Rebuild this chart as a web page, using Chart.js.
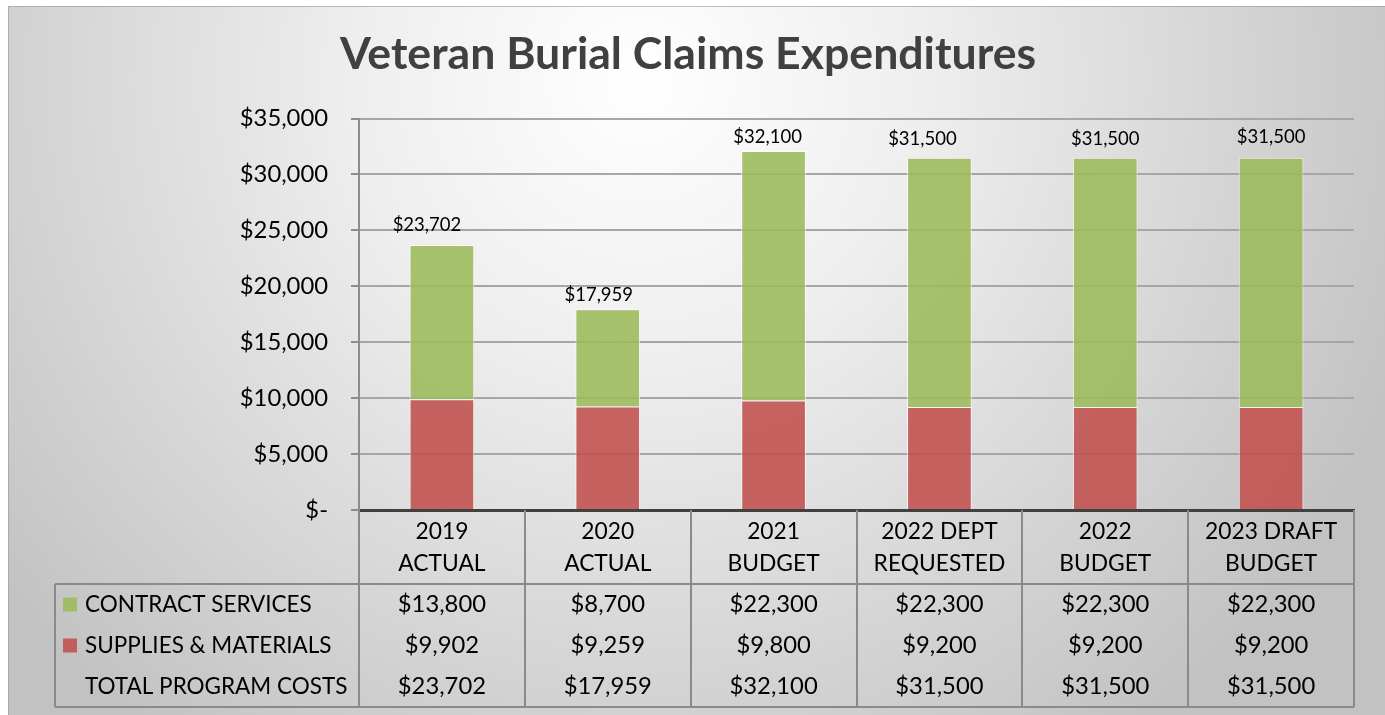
<!DOCTYPE html>
<html><head><meta charset="utf-8">
<script src="https://cdn.jsdelivr.net/npm/chart.js@4/dist/chart.umd.min.js"></script>
<style>html,body{margin:0;padding:0;background:#fff;overflow:hidden}canvas{display:block}</style>
</head><body>
<canvas id="c" width="1385" height="715"></canvas>
<script>
const chartTitle = "Veteran Burial Claims Expenditures";
const categories = [["2019","ACTUAL"],["2020","ACTUAL"],["2021","BUDGET"],["2022 DEPT","REQUESTED"],["2022","BUDGET"],["2023 DRAFT","BUDGET"]];
const contractServices = [13800, 8700, 22300, 22300, 22300, 22300];
const suppliesMaterials = [9902, 9259, 9800, 9200, 9200, 9200];
const totalCosts = [23702, 17959, 32100, 31500, 31500, 31500];
const rowNames = ["CONTRACT SERVICES", "SUPPLIES & MATERIALS", "TOTAL PROGRAM COSTS"];
const yMin = 0, yMax = 35000, yStep = 5000;

const GREEN = 'rgba(155,187,89,0.88)';
const RED = 'rgba(192,80,77,0.88)';
const FONT = 'Lato, "Open Sans", sans-serif';

const fmt = v => v === 0 ? '$-' : '$' + v.toLocaleString('en-US');

const bgPlugin = {
  id: 'bg',
  beforeDraw(chart) {
    const ctx = chart.ctx, W = chart.width, H = chart.height;
    ctx.save();
    ctx.fillStyle = '#fff';
    ctx.fillRect(0, 0, W, H);
    const g = ctx.createRadialGradient(640, 80, 0, 640, 80, 820);
    g.addColorStop(0, '#ffffff');
    g.addColorStop(0.35, '#eeeeee');
    g.addColorStop(1, '#c2c2c2');
    ctx.fillStyle = g;
    ctx.fillRect(8, 6, W - 8, H - 6);
    ctx.strokeStyle = 'rgba(150,150,150,0.6)';
    ctx.lineWidth = 1;
    ctx.beginPath();
    ctx.moveTo(8.5, H); ctx.lineTo(8.5, 6.5); ctx.lineTo(W, 6.5);
    ctx.stroke();
    ctx.restore();
  }
};

const labelPlugin = {
  id: 'totals',
  afterDatasetsDraw(chart, args, opts) {
    const ctx = chart.ctx;
    const meta = chart.getDatasetMeta(chart.data.datasets.length - 1);
    const nudges = opts.nudges || [];
    ctx.save();
    ctx.font = '18.5px ' + FONT;
    ctx.fillStyle = '#000';
    ctx.textAlign = 'center';
    ctx.textBaseline = 'middle';
    meta.data.forEach((bar, i) => {
      const nd = nudges[i] || [0, 17];
      ctx.fillText(fmt(totalCosts[i]), bar.x + nd[0], bar.y - nd[1]);
    });
    ctx.restore();
  }
};

const tablePlugin = {
  id: 'table',
  afterDraw(chart) {
    const ctx = chart.ctx;
    const xs = chart.scales.x;
    const area = chart.chartArea;
    const n = categories.length;
    const step = (area.right - area.left) / n;
    const headTop = xs.top, headBottom = 584;
    const tableLeft = 55, rowH = 41, tableBottom = headBottom + rowH * 3;
    ctx.save();
    ctx.strokeStyle = '#8a8a8a';
    ctx.lineWidth = 2;
    ctx.beginPath();
    for (let i = 0; i <= n; i++) {
      const x = Math.round(area.left + step * i);
      ctx.moveTo(x, headTop); ctx.lineTo(x, tableBottom);
    }
    ctx.moveTo(tableLeft, headBottom); ctx.lineTo(area.right, headBottom);
    ctx.moveTo(tableLeft, tableBottom); ctx.lineTo(area.right, tableBottom);
    ctx.moveTo(tableLeft, headBottom); ctx.lineTo(tableLeft, tableBottom);
    ctx.stroke();

    const rows = [contractServices, suppliesMaterials, totalCosts];
    const swatches = [GREEN, RED, null];
    ctx.fillStyle = '#000';
    ctx.textBaseline = 'middle';
    rows.forEach((vals, r) => {
      const cy = headBottom + rowH * r + rowH / 2;
      if (swatches[r]) {
        ctx.fillStyle = swatches[r];
        ctx.fillRect(63, cy - 7, 14, 14);
      }
      ctx.fillStyle = '#000';
      ctx.textAlign = 'left';
      ctx.font = '22.5px ' + FONT;
      ctx.fillText(rowNames[r], 85, cy);
      ctx.textAlign = 'center';
      ctx.font = '23.8px ' + FONT;
      vals.forEach((v, i) => {
        ctx.fillText(fmt(v), xs.getPixelForValue(i), cy);
      });
    });
    ctx.restore();
  }
};

new Chart(document.getElementById('c'), {
  type: 'bar',
  data: {
    labels: categories,
    datasets: [
      { label: rowNames[1], data: suppliesMaterials, backgroundColor: RED, borderColor: 'rgba(255,255,255,0.7)', borderWidth: 1, barPercentage: 0.39, categoryPercentage: 1 },
      { label: rowNames[0], data: contractServices, backgroundColor: GREEN, borderColor: 'rgba(255,255,255,0.7)', borderWidth: 1, barPercentage: 0.39, categoryPercentage: 1 }
    ]
  },
  options: {
    responsive: false,
    animation: false,
    devicePixelRatio: 1,
    layout: { padding: { left: 22, right: 31, top: 0, bottom: 131 } },
    plugins: {
      legend: { display: false },
      tooltip: { enabled: false },
      title: {
        display: true, text: chartTitle, color: '#404040',
        font: { family: FONT, size: 44.6, weight: 'bold' },
        padding: { top: 28, bottom: 37 }
      },
      totals: { nudges: [[-15, 20], [-9, 14], [-6, 14], [-17, 19], [0, 19], [0, 21]] }
    },
    scales: {
      x: {
        stacked: true,
        grid: { display: false },
        border: { color: '#404040', width: 3 },
        ticks: { color: '#000', font: { family: FONT, size: 22.8, lineHeight: 1.42 }, padding: -3, maxRotation: 0, autoSkip: false },
        afterFit(s) { s.height = 74; }
      },
      y: {
        stacked: true,
        min: yMin, max: yMax,
        ticks: { stepSize: yStep, callback: v => fmt(v), color: '#000', font: { family: FONT, size: 23.8 }, padding: 23 },
        grid: { color: '#a6a6a6', lineWidth: 2, tickLength: 8, tickColor: '#8c8c8c' },
        border: { color: '#8c8c8c', width: 2 },
        afterFit(s) { s.width = 337; }
      }
    }
  },
  plugins: [bgPlugin, labelPlugin, tablePlugin]
});
</script>
</body></html>
